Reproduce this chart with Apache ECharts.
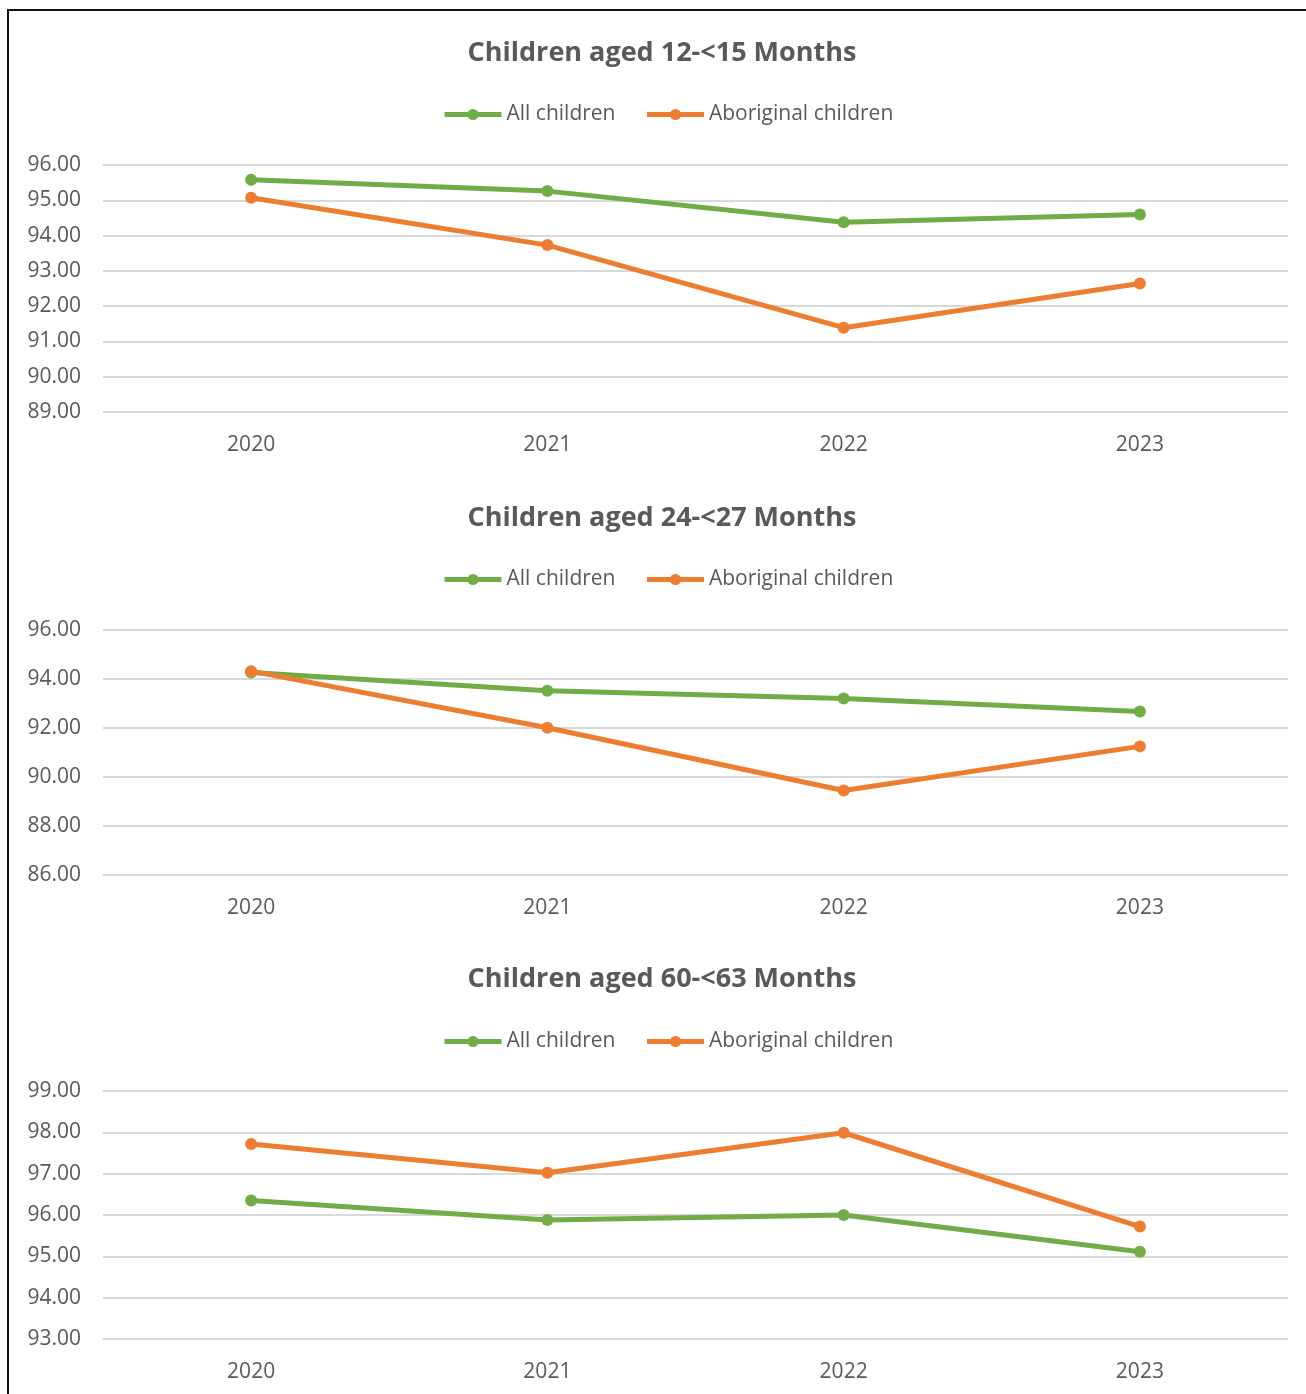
<!DOCTYPE html>
<html>
<head>
<meta charset="utf-8">
<script src="https://cdn.jsdelivr.net/npm/echarts@6/dist/echarts.min.js"></script>
<style>
  html, body { margin: 0; padding: 0; background: #fff; overflow: hidden; }
  #frame { position: absolute; left: 7px; top: 9px; width: 1320px; height: 1420px; border-left: 2px solid #111; border-top: 2px solid #111; box-sizing: border-box; }
  #chart { position: absolute; left: 18px; top: 0; width: 1288px; height: 1394px; }
</style>
</head>
<body>
<div id="frame"></div>
<div id="chart"></div>
<script>
const years = ['2020', '2021', '2022', '2023'];
const seriesNames = ['All children', 'Aboriginal children'];
const titles = ['Children aged 12-<15 Months', 'Children aged 24-<27 Months', 'Children aged 60-<63 Months'];

const allChildren12 = [95.58, 95.26, 94.38, 94.60];
const aboriginal12  = [95.07, 93.73, 91.39, 92.64];
const allChildren24 = [94.27, 93.52, 93.20, 92.67];
const aboriginal24  = [94.32, 92.01, 89.45, 91.25];
const allChildren60 = [96.35, 95.88, 96.00, 95.11];
const aboriginal60  = [97.72, 97.02, 97.99, 95.72];

const yMins = [89, 86, 93];
const yMaxs = [96, 96, 99];
const yIntervals = [1, 2, 1];

const greenC = '#70AD47';
const orangeC = '#ED7D31';
const textC = '#595959';
const font = 'Open Sans';

const gridTops = [165, 630, 1091];
const gridHeights = [247, 245, 248];
const titleTops = [40, 505, 966];
const legendTops = [104, 569, 1031];

const dataSets = [[allChildren12, aboriginal12], [allChildren24, aboriginal24], [allChildren60, aboriginal60]];

const chart = echarts.init(document.getElementById('chart'), null, { renderer: 'canvas' });

const option = {
  backgroundColor: 'transparent',
  animation: false,
  title: titles.map((t, i) => ({
    text: t, left: 'center', top: titleTops[i], padding: 0,
    textStyle: { fontFamily: font, fontSize: 27, fontWeight: 'bold', color: textC }
  })),
  legend: titles.map((t, i) => ({
    top: legendTops[i], left: 424, padding: 0,
    itemWidth: 57, itemHeight: 14, itemGap: 29,
    data: seriesNames,
    lineStyle: { width: 5 },
    textStyle: { fontFamily: font, fontSize: 21, color: textC }
  })),
  grid: titles.map((t, i) => ({ left: 85, width: 1185, top: gridTops[i], height: gridHeights[i] })),
  xAxis: titles.map((t, i) => ({
    type: 'category', gridIndex: i, data: years, boundaryGap: true,
    axisLine: { show: false }, axisTick: { show: false },
    axisLabel: { fontFamily: font, fontSize: 21, color: textC, margin: 23 }
  })),
  yAxis: titles.map((t, i) => ({
    type: 'value', gridIndex: i, min: yMins[i], max: yMaxs[i], interval: yIntervals[i],
    axisLine: { show: false }, axisTick: { show: false },
    splitLine: { lineStyle: { color: '#D9D9D9', width: 2 } },
    axisLabel: { fontFamily: font, fontSize: 21, color: textC, margin: 22, formatter: v => v.toFixed(2) }
  })),
  series: []
};

dataSets.forEach((pair, i) => {
  pair.forEach((vals, j) => {
    const c = j === 0 ? greenC : orangeC;
    option.series.push({
      name: seriesNames[j], type: 'line', xAxisIndex: i, yAxisIndex: i,
      data: vals, symbol: 'circle', symbolSize: 12, showSymbol: true,
      lineStyle: { color: c, width: 5 }, itemStyle: { color: c },
      emphasis: { disabled: true }
    });
  });
});

chart.setOption(option);
</script>
</body>
</html>
